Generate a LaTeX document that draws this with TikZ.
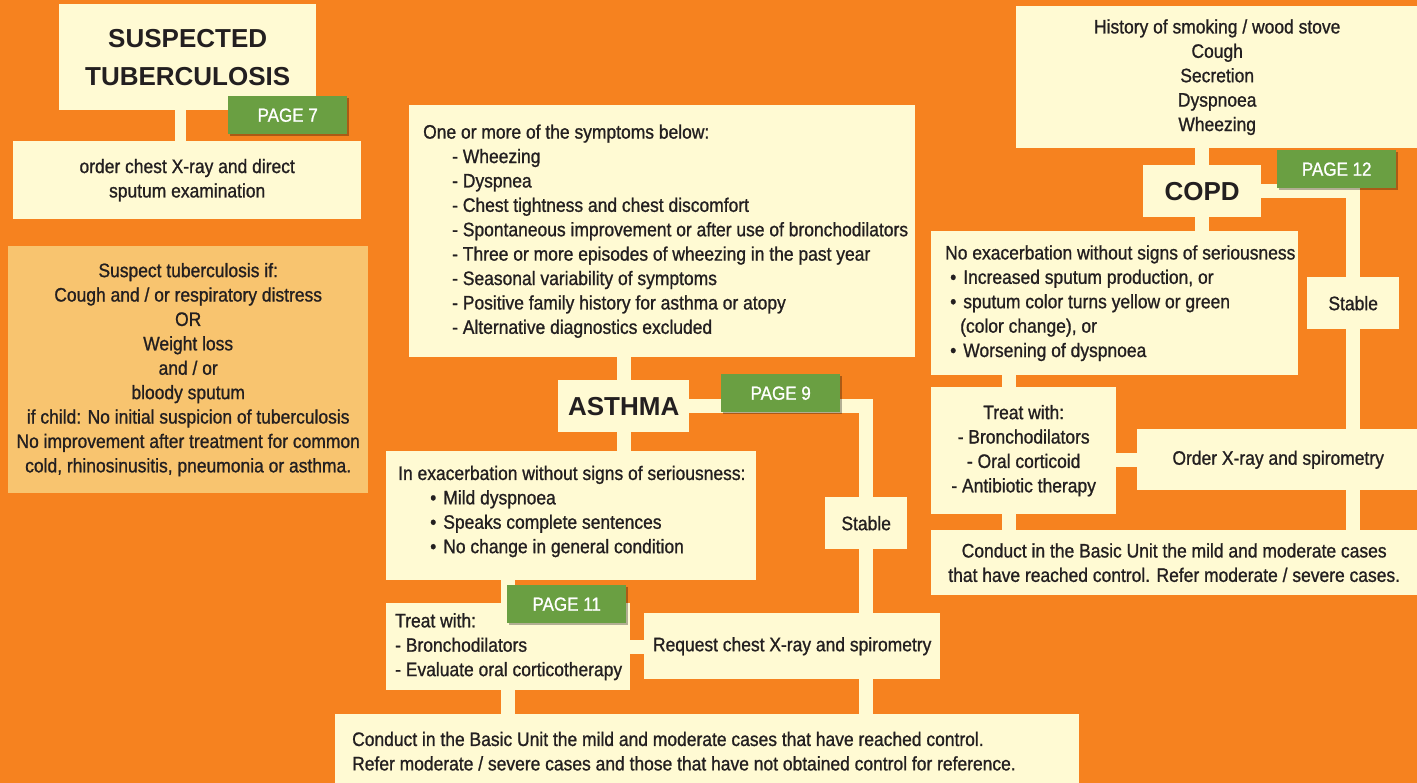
\documentclass[tikz,border=0pt]{standalone}
\usepackage{fontspec}
\setmainfont{Liberation Sans}[FakeStretch=0.895,FakeBold=1,WordSpace=1]
\newfontfamily\headfont{Liberation Sans}
\usetikzlibrary{shadows}

\definecolor{bgorange}{HTML}{F6821F}
\definecolor{cream}{HTML}{FFFAD3}
\definecolor{tbpale}{HTML}{F8C46F}
\definecolor{pagegreen}{HTML}{6A9F42}
\definecolor{ink}{HTML}{231F20}

\pgfdeclarelayer{back}
\pgfdeclarelayer{links}
\pgfsetlayers{back,links,main}

\newcommand{\ind}[1]{\hspace*{#1pt}}

\begin{document}
\begin{tikzpicture}[x=1pt,y=-1pt,
    wh/.style 2 args={minimum width=#1pt, minimum height=#2pt},
    box/.style={fill=cream, text=ink, inner sep=0pt, anchor=north west,
      font=\fontsize{19.5}{24.4}\selectfont, align=center,
      execute at begin node={\spaceskip=0pt\xspaceskip=0pt}},
    lbox/.style={box, align=left, text width=#1pt},
    title/.style={box, font=\headfont\bfseries\fontsize{26}{38}\selectfont},
    pagebox/.style={fill=pagegreen, text=white, anchor=north west, inner sep=0pt,
      minimum width=119pt, minimum height=38pt, font=\fontsize{19}{20}\selectfont,
      drop shadow={shadow xshift=2pt, shadow yshift=-2pt, fill=black, opacity=0.3}},
    link/.style={draw=cream, line width=14pt}]

  % page and background
  \useasboundingbox (0,0) rectangle (1417,783);
  \begin{pgfonlayer}{back}
    \fill[bgorange] (0,0) rectangle (1417,783);
  \end{pgfonlayer}

  % tuberculosis
  \node[title, wh={257}{106}] (tb) at (59,4) {SUSPECTED\\TUBERCULOSIS};
  \node[pagebox] (page7) at (228,96) {PAGE 7};
  \node[box, wh={348}{78}] (order) at (13,141) {order chest X-ray and direct\\sputum examination};
  \node[box, wh={360}{247}, fill=tbpale] (suspect) at (8,246) {Suspect tuberculosis if:\\
    Cough and / or respiratory distress\\ OR\\ Weight loss\\ and / or\\ bloody sputum\\
    if child: No initial suspicion of tuberculosis\\
    No improvement after treatment for common\\
    cold, rhinosinusitis, pneumonia or asthma.};

  % asthma
  \node[lbox=506, wh={506}{252}] (symp) at (409,105) {\ind{14}One or more of the symptoms below:\\
    \ind{43}- Wheezing\\
    \ind{43}- Dyspnea\\
    \ind{43}- Chest tightness and chest discomfort\\
    \ind{43}- Spontaneous improvement or after use of bronchodilators\\
    \ind{43}- Three or more episodes of wheezing in the past year\\
    \ind{43}- Seasonal variability of symptoms\\
    \ind{43}- Positive family history for asthma or atopy\\
    \ind{43}- Alternative diagnostics excluded};
  \node[title, wh={131}{52}] (asthma) at (558,380) {ASTHMA};
  \node[pagebox] (page9) at (721,374) {PAGE 9};
  \node[lbox=370, wh={370}{129}] (exac) at (386,451) {\ind{12}In exacerbation without signs of seriousness:\\
    \ind{44}\textbullet\hspace{7pt}Mild dyspnoea\\
    \ind{44}\textbullet\hspace{7pt}Speaks complete sentences\\
    \ind{44}\textbullet\hspace{7pt}No change in general condition\\[-12pt]\mbox{}};
  \node[box, wh={82}{52}] (stable1) at (825,497) {Stable};
  \node[lbox=244, wh={244}{87}] (treat) at (386,603) {\ind{9}Treat with:\\
    \ind{9}- Bronchodilators\\ \ind{9}- Evaluate oral corticotherapy};
  \node[pagebox] (page11) at (507,585) {PAGE 11};
  \node[box, wh={296}{66}] (request) at (644,613) {Request chest X-ray and spirometry};
  \node[lbox=744, wh={744}{74}] (bottom) at (335,714) {\ind{17}Conduct in the Basic Unit the mild and moderate cases that have reached control.\\
    \ind{17}Refer moderate / severe cases and those that have not obtained control for reference.};

  % copd
  \node[box, wh={402}{142}] (hist) at (1016,6) {History of smoking / wood stove\\
    Cough\\ Secretion\\ Dyspnoea\\ Wheezing};
  \node[title, wh={118}{52}] (copd) at (1143,165) {COPD};
  \node[pagebox] (page12) at (1277,150) {PAGE 12};
  \node[lbox=367, wh={367}{144}] (noex) at (931,231) {\ind{14}No exacerbation without signs of seriousness\\
    \ind{19}\textbullet\hspace{7pt}Increased sputum production, or\\
    \ind{19}\textbullet\hspace{7pt}sputum color turns yellow or green\\
    \ind{29}(color change), or\\
    \ind{19}\textbullet\hspace{7pt}Worsening of dyspnoea};
  \node[box, wh={92}{52}] (stable2) at (1307,277) {Stable};
  \node[box, wh={185}{127}] (treat2) at (931,387) {Treat with:\\
    - Bronchodilators\\ - Oral corticoid\\ - Antibiotic therapy};
  \node[box, wh={282}{61}] (order2) at (1137,429) {Order X-ray and spirometry};
  \node[box, wh={486}{65}] (bottom2) at (931,530) {Conduct in the Basic Unit the mild and moderate cases\\
    that have reached control. Refer moderate / severe cases.};

  % connectors behind the boxes
  \begin{pgfonlayer}{links}
    \draw[link, line width=11pt] ([xshift=-7pt]tb.center) -- ([xshift=-7pt]tb.center |- order.center);
    \draw[link] (asthma.center) -- (asthma.center |- symp.center);
    \draw[link] (asthma.center) -- (asthma.center |- exac.center);
    \draw[link] (asthma.center) -| (stable1.center) -- (stable1.center |- bottom.center);
    \draw[link] (treat.center) -- (treat.center |- exac.center);
    \draw[link] (treat.center) -- (treat.center -| request.center);
    \draw[link] (treat.center) -- (treat.center |- bottom.center);
    \draw[link] (copd.center) -- (copd.center |- hist.center);
    \draw[link] (copd.center) -- (copd.center |- noex.center);
    \draw[link] (copd.center) -| (stable2.center) -- (stable2.center |- bottom2.center);
    \draw[link] ([xshift=-15pt]treat2.center) -- ([xshift=-15pt]treat2.center |- noex.center);
    \draw[link] (order2.center) -- (order2.center -| treat2.center);
    \draw[link] ([xshift=-15pt]treat2.center) -- ([xshift=-15pt]treat2.center |- bottom2.center);
  \end{pgfonlayer}

\end{tikzpicture}
\end{document}
